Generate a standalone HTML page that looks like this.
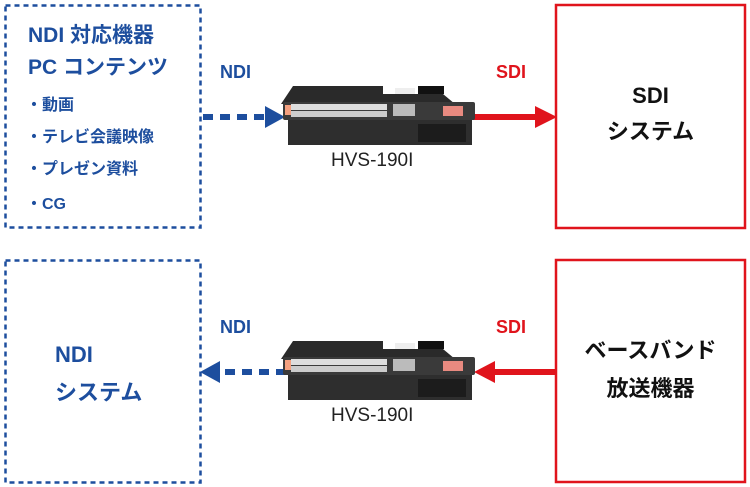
<!DOCTYPE html><html><head><style>
body{margin:0;width:750px;height:487px;background:#fff;overflow:hidden;position:relative;font-family:"Liberation Sans","Noto Sans CJK JP",sans-serif}
.t{position:absolute;font-weight:bold;white-space:nowrap}
</style></head><body>
<svg width="750" height="487" style="position:absolute;left:0;top:0">
<defs>
<g id="dev">
<path d="M10 0 H100 V8 H160 L172 18 H-2 Z" fill="#2a2a2a"/>
<rect x="0" y="16" width="192" height="18" rx="2" fill="#3a3a3a"/>
<rect x="8" y="18" width="96" height="6" fill="#ddd"/>
<rect x="8" y="25" width="96" height="6" fill="#ccc"/>
<rect x="2" y="19" width="6" height="10" fill="#f4a080"/>
<rect x="110" y="18" width="22" height="12" fill="#bbb"/>
<rect x="160" y="20" width="20" height="10" fill="#e88a80"/>
<rect x="112" y="2" width="20" height="6" fill="#eee"/>
<rect x="135" y="0" width="26" height="8" fill="#111"/>
<rect x="5" y="34" width="184" height="25" fill="#2e2e2e"/>
<rect x="135" y="38" width="48" height="18" fill="#1c1c1c"/>
</g>
</defs>
<rect x="5.5" y="5.5" width="195" height="222" fill="none" stroke="#1d4e9e" stroke-width="2.5" stroke-dasharray="5,4"/>
<rect x="5.5" y="260.5" width="195" height="222" fill="none" stroke="#1d4e9e" stroke-width="2.5" stroke-dasharray="5,4"/>
<rect x="556" y="5" width="189" height="223" fill="none" stroke="#e0141c" stroke-width="2.5"/>
<rect x="556" y="260" width="189" height="222" fill="none" stroke="#e0141c" stroke-width="2.5"/>
<line x1="203" y1="117" x2="268" y2="117" stroke="#1d4e9e" stroke-width="6" stroke-dasharray="10,7"/>
<polygon points="265,106 285,117 265,128" fill="#1d4e9e"/>
<line x1="470" y1="117" x2="538" y2="117" stroke="#e0141c" stroke-width="6"/>
<polygon points="535,106 557,117 535,128" fill="#e0141c"/>
<use href="#dev" x="283" y="86"/>
<line x1="286" y1="372" x2="218" y2="372" stroke="#1d4e9e" stroke-width="6" stroke-dasharray="10,7"/>
<polygon points="220,361 200,372 220,383" fill="#1d4e9e"/>
<line x1="555" y1="372" x2="492" y2="372" stroke="#e0141c" stroke-width="6"/>
<polygon points="495,361 474,372 495,383" fill="#e0141c"/>
<use href="#dev" x="283" y="341"/>
</svg>
<div class="t" style="left:28px;top:19px;font-size:21px;color:#1d4e9e">NDI 対応機器</div>
<div class="t" style="left:28px;top:51px;font-size:21px;color:#1d4e9e">PC コンテンツ</div>
<div class="t" style="left:26px;top:91px;font-size:16px;color:#1d4e9e">・動画</div>
<div class="t" style="left:26px;top:123px;font-size:16px;color:#1d4e9e">・テレビ会議映像</div>
<div class="t" style="left:26px;top:155px;font-size:16px;color:#1d4e9e">・プレゼン資料</div>
<div class="t" style="left:26px;top:190px;font-size:16px;color:#1d4e9e">・CG</div>
<div class="t" style="left:220px;top:62px;font-size:18px;color:#1d4e9e">NDI</div>
<div class="t" style="left:496px;top:62px;font-size:18px;color:#e0141c">SDI</div>
<div class="t" style="left:220px;top:317px;font-size:18px;color:#1d4e9e">NDI</div>
<div class="t" style="left:496px;top:317px;font-size:18px;color:#e0141c">SDI</div>
<div class="t" style="left:331px;top:150px;font-size:19px;font-weight:normal;color:#222">HVS-190I</div>
<div class="t" style="left:331px;top:405px;font-size:19px;font-weight:normal;color:#222">HVS-190I</div>
<div class="t" style="left:556px;width:189px;text-align:center;top:78px;font-size:22px;line-height:36px;color:#111">SDI<br>システム</div>
<div class="t" style="left:55px;top:336px;font-size:22px;line-height:38px;color:#1d4e9e">NDI<br>システム</div>
<div class="t" style="left:556px;width:189px;text-align:center;top:332px;font-size:22px;line-height:38px;color:#111">ベースバンド<br>放送機器</div>
</body></html>
